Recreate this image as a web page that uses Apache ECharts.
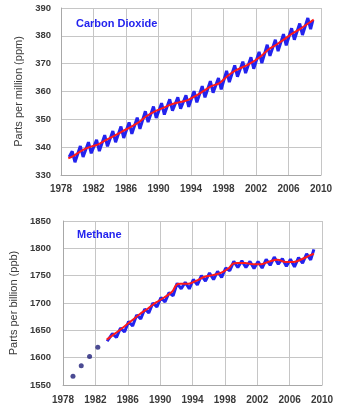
<!DOCTYPE html>
<html>
<head>
<meta charset="utf-8">
<script src="https://cdn.jsdelivr.net/npm/echarts@6/dist/echarts.min.js"></script>
<style>
  html, body { margin: 0; padding: 0; background: #fff; }
  #chart { width: 338px; height: 410px; }
</style>
</head>
<body>
<div id="chart"></div>
<script>
// Carbon dioxide: seasonal record (peak / trough each year) and de-seasonalised trend
const co2Years = [1979.0, 1979.38, 1979.72, 1980.38, 1980.72, 1981.38, 1981.72, 1982.38, 1982.72,
  1983.38, 1983.72, 1984.38, 1984.72, 1985.38, 1985.72, 1986.38, 1986.72, 1987.38, 1987.72,
  1988.38, 1988.72, 1989.38, 1989.72, 1990.38, 1990.72, 1991.38, 1991.72, 1992.38, 1992.72,
  1993.38, 1993.72, 1994.38, 1994.72, 1995.38, 1995.72, 1996.38, 1996.72, 1997.38, 1997.72,
  1998.38, 1998.72, 1999.38, 1999.72, 2000.38, 2000.72, 2001.38, 2001.72, 2002.38, 2002.72,
  2003.38, 2003.72, 2004.38, 2004.72, 2005.38, 2005.72, 2006.38, 2006.72, 2007.38, 2007.72,
  2008.38, 2008.72, 2009.0];
const co2Seasonal = [336.5, 338.5, 334.6, 340.4, 336.5, 341.8, 337.8, 342.6, 338.6,
  344.3, 340.3, 345.8, 341.8, 347.4, 343.3, 348.9, 344.8, 350.6, 346.6,
  352.9, 349.0, 354.6, 350.5, 355.8, 351.7, 357.2, 353.1, 357.9, 353.8,
  358.6, 354.5, 360.1, 356.1, 361.9, 357.9, 363.7, 359.6, 364.8, 360.8,
  367.4, 363.4, 369.4, 365.3, 370.7, 366.6, 372.3, 368.2, 374.2, 370.2,
  376.8, 372.8, 378.6, 374.5, 380.6, 376.6, 382.7, 378.6, 384.4, 380.3,
  386.4, 382.4, 385.6];
const co2TrendYears = [1978.9, 1979.5, 1980.5, 1981.5, 1982.5, 1983.5, 1984.5, 1985.5, 1986.5,
  1987.5, 1988.5, 1989.5, 1990.5, 1991.5, 1992.5, 1993.5, 1994.5, 1995.5, 1996.5, 1997.5,
  1998.5, 1999.5, 2000.5, 2001.5, 2002.5, 2003.5, 2004.5, 2005.5, 2006.5, 2007.5, 2008.5, 2009.1];
const co2Trend = [336.0, 336.8, 338.7, 340.0, 340.9, 342.5, 344.0, 345.6, 347.1,
  348.8, 351.1, 352.8, 354.0, 355.3, 356.1, 356.8, 358.3, 360.1, 361.9, 363.0,
  365.6, 367.6, 368.9, 370.5, 372.4, 375.0, 376.8, 378.8, 380.9, 382.6, 384.6, 385.8];

// Methane: early annual values, seasonal record and trend
const ch4EarlyYears = [1979.23, 1980.25, 1981.28, 1982.3];
const ch4Early = [1566, 1585, 1602, 1619];
const ch4Years = [1983.45, 1984.1, 1984.6, 1985.1, 1985.6, 1986.1, 1986.6, 1987.1, 1987.6,
  1988.1, 1988.6, 1989.1, 1989.6, 1990.1, 1990.6, 1991.1, 1991.6, 1992.1, 1992.6,
  1993.1, 1993.6, 1994.1, 1994.6, 1995.1, 1995.6, 1996.1, 1996.6, 1997.1, 1997.6,
  1998.1, 1998.6, 1999.1, 1999.6, 2000.1, 2000.6, 2001.1, 2001.6, 2002.1, 2002.6,
  2003.1, 2003.6, 2004.1, 2004.6, 2005.1, 2005.6, 2006.1, 2006.6, 2007.1, 2007.6,
  2008.1, 2008.6, 2009.0];
const ch4Seasonal = [1630, 1644, 1637, 1654, 1647, 1666, 1658, 1678, 1671,
  1689, 1682, 1700, 1693, 1710, 1702, 1719, 1713, 1736, 1726,
  1738, 1726, 1743, 1733, 1750, 1740, 1755, 1743, 1758, 1747,
  1764, 1759, 1776, 1765, 1777, 1765, 1776, 1763, 1776, 1764,
  1780, 1769, 1784, 1771, 1781, 1767, 1780, 1766, 1783, 1773,
  1790, 1779, 1798];
const ch4TrendYears = [1983.4, 1984.5, 1985.5, 1986.5, 1987.5, 1988.5, 1989.5, 1990.5, 1991.5,
  1992.0, 1992.5, 1993.5, 1994.5, 1995.5, 1996.5, 1997.5, 1998.5, 1999.0, 1999.5, 2000.5,
  2001.5, 2002.5, 2003.5, 2004.5, 2005.5, 2006.5, 2007.5, 2008.5, 2009.0];
const ch4Trend = [1633, 1645, 1656, 1668, 1680, 1690, 1701, 1710, 1721,
  1733, 1735, 1735, 1741, 1748, 1751, 1755, 1764, 1772, 1773, 1773,
  1771, 1771, 1776, 1779, 1775, 1775, 1780, 1787, 1790];

const yearTicks = { min: 1978, max: 2010, interval: 4 };

const pairs = (xs, ys) => xs.map((x, i) => [x, ys[i]]);

const BLUE = '#2323ee';
const RED = '#ff1a1a';
const GRID_COLOR = '#c6c6c6';
const FONT = 'Arial, "Liberation Sans", sans-serif';

function xAxis(gridIndex, margin) {
  return {
    type: 'value', gridIndex,
    min: yearTicks.min, max: yearTicks.max, interval: yearTicks.interval,
    axisLine: { show: true, lineStyle: { color: '#a8a8a8', width: 1 } },
    axisTick: { show: false },
    splitLine: { show: true, lineStyle: { color: GRID_COLOR, width: 1 } },
    axisLabel: { margin, formatter: v => String(v), fontFamily: FONT, fontSize: 10, fontWeight: 'bold', color: '#3a3a3a' }
  };
}

function yAxis(gridIndex, min, max, interval, name, nameGap, labelMargin) {
  return {
    type: 'value', gridIndex, min, max, interval,
    name, nameLocation: 'middle', nameGap, nameRotate: 90,
    nameTextStyle: { fontFamily: FONT, fontSize: 11, color: '#3a3a3a' },
    axisLine: { show: true, lineStyle: { color: '#a8a8a8', width: 1 } },
    axisTick: { show: false },
    splitLine: { show: true, lineStyle: { color: GRID_COLOR, width: 1 } },
    axisLabel: { margin: labelMargin, formatter: v => String(v), fontFamily: FONT, fontSize: 9.5, fontWeight: 'bold', color: '#3a3a3a' }
  };
}

const chart = echarts.init(document.getElementById('chart'), null, { renderer: 'canvas' });
chart.setOption({
  backgroundColor: '#ffffff',
  animation: false,
  grid: [
    { left: 61, top: 8, width: 260, height: 167 },
    { left: 59, top: 221, width: 263, height: 164 }
  ],
  title: [
    { text: 'Carbon Dioxide', left: 71, top: 13,
      textStyle: { fontFamily: FONT, fontSize: 11, fontWeight: 'bold', color: BLUE } },
    { text: 'Methane', left: 72, top: 224,
      textStyle: { fontFamily: FONT, fontSize: 11, fontWeight: 'bold', color: BLUE } }
  ],
  xAxis: [xAxis(0, 9), xAxis(1, 10)],
  yAxis: [
    yAxis(0, 330, 390, 10, 'Parts per million (ppm)', 34, 10),
    yAxis(1, 1550, 1850, 50, 'Parts per billion (ppb)', 36, 12)
  ],
  series: [
    { type: 'line', xAxisIndex: 0, yAxisIndex: 0, data: pairs(co2Years, co2Seasonal),
      showSymbol: false, lineStyle: { color: BLUE, width: 3 }, z: 2 },
    { type: 'line', xAxisIndex: 0, yAxisIndex: 0, data: pairs(co2TrendYears, co2Trend),
      showSymbol: false, smooth: 0.3, lineStyle: { color: RED, width: 2 }, z: 3 },
    { type: 'scatter', xAxisIndex: 1, yAxisIndex: 1, data: pairs(ch4EarlyYears, ch4Early),
      symbolSize: 5, itemStyle: { color: '#1e1e78' }, z: 2 },
    { type: 'line', xAxisIndex: 1, yAxisIndex: 1, data: pairs(ch4Years, ch4Seasonal),
      showSymbol: false, lineStyle: { color: BLUE, width: 3 }, z: 2 },
    { type: 'line', xAxisIndex: 1, yAxisIndex: 1, data: pairs(ch4TrendYears, ch4Trend),
      showSymbol: false, smooth: 0.3, lineStyle: { color: RED, width: 2 }, z: 3 }
  ]
});
</script>
</body>
</html>
